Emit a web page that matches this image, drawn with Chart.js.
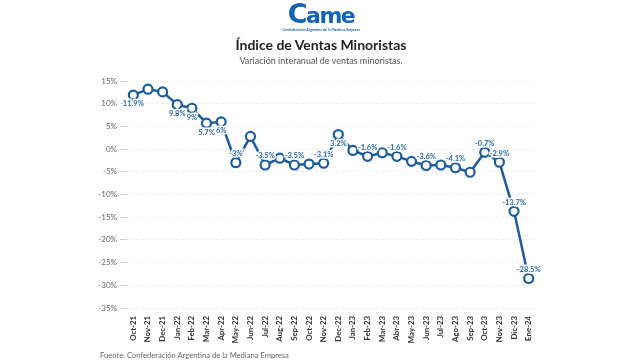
<!DOCTYPE html>
<html>
<head>
<meta charset="utf-8">
<script src="https://cdn.jsdelivr.net/npm/chart.js@4"></script>
<style>
  html, body { margin:0; padding:0; background:#fff; }
  #wrap { position:relative; width:642px; height:361px; overflow:hidden; font-family: Lato, "Open Sans", sans-serif; }
  #c { position:absolute; left:0; top:0; }
  .abs { position:absolute; white-space:nowrap; }
  #logo { left:0; width:642px; top:-2px; text-align:center; color:#1562b8; font-family:"DejaVu Sans", sans-serif; font-weight:bold; font-size:22px; letter-spacing:-1.5px; }
  #logo .big { font-size:27px; }
  #logosub { left:0; width:642px; top:27px; text-align:center; color:#1562b8; font-size:3.6px; font-weight:bold; }
  #title { left:0; width:642px; top:36px; text-align:center; color:#222; font-weight:bold; font-size:14px; }
  #sub { left:0; width:642px; top:55px; text-align:center; color:#555; font-size:9px; }
  #src { left:100px; top:350px; color:#666; font-size:7.6px; }
</style>
</head>
<body>
<div id="wrap">
  <canvas id="c" width="642" height="361"></canvas>
  <div id="logo" class="abs"><span class="big">C</span>ame</div>
  <div id="logosub" class="abs">Confederación Argentina de la Mediana Empresa</div>
  <div id="title" class="abs">Índice de Ventas Minoristas</div>
  <div id="sub" class="abs">Variación interanual de ventas minoristas.</div>
  <div id="src" class="abs">Fuente: Confederación Argentina de la Mediana Empresa</div>
</div>
<script>
const months = ["Oct-21","Nov-21","Dec-21","Jan-22","Feb-22","Mar-22","Apr-22","May-22","Jun-22","Jul-22","Aug-22","Sep-22","Oct-22","Nov-22","Dec-22","Jan-23","Feb-23","Mar-23","Abr-23","May-23","Jun-23","Jul-23","Ago-23","Sep-23","Oct-23","Nov-23","Dic-23","Ene-24"];
const ventas = [11.9, 13.2, 12.6, 9.8, 9.0, 5.7, 6.0, -3.0, 2.8, -3.5, -2.0, -3.5, -3.3, -3.1, 3.2, -0.3, -1.6, -0.8, -1.6, -2.7, -3.6, -3.5, -4.1, -5.1, -0.7, -2.9, -13.7, -28.5];
const etiquetas = [11.9, null, null, 9.8, 9, 5.7, 6, -3, null, -3.5, null, -3.5, null, -3.1, 3.2, null, -1.6, null, -1.6, null, -3.6, null, -4.1, null, -0.7, -2.9, -13.7, -28.5];
const yTicks = [15, 10, 5, 0, -5, -10, -15, -20, -25, -30, -35];

const blue = '#1a5c9e';
const labelBlue = '#2a69a8';

const labelPlugin = {
  id: 'pointLabels',
  afterDatasetsDraw(chart) {
    const ctx = chart.ctx;
    const meta = chart.getDatasetMeta(0);
    ctx.save();
    ctx.font = 'bold 7.5px Lato';
    ctx.textAlign = 'center';
    ctx.textBaseline = 'middle';
    etiquetas.forEach((v, i) => {
      if (v === null) return;
      const pt = meta.data[i];
      const y = pt.y + (v >= 0 ? 9 : -9);
      const txt = v + '%';
      ctx.lineWidth = 3;
      ctx.strokeStyle = '#fff';
      ctx.strokeText(txt, pt.x, y);
      ctx.fillStyle = labelBlue;
      ctx.fillText(txt, pt.x, y);
    });
    ctx.restore();
  }
};

new Chart(document.getElementById('c'), {
  type: 'line',
  data: {
    labels: months,
    datasets: [{
      data: ventas,
      borderColor: blue,
      borderWidth: 2.5,
      backgroundColor: '#fff',
      pointBackgroundColor: '#fff',
      pointBorderColor: blue,
      pointBorderWidth: 2.2,
      pointRadius: 4.5,
      tension: 0
    }]
  },
  options: {
    responsive: false,
    animation: false,
    events: [],
    layout: { padding: { left: 0, right: 106, top: 81, bottom: 8 } },
    plugins: { legend: { display: false }, tooltip: { enabled: false }, title: { display: false } },
    scales: {
      x: {
        offset: true,
        grid: { display: false, drawTicks: false },
        border: { display: false },
        ticks: { autoSkip: false, maxRotation: 90, minRotation: 90, padding: 8, color: '#333', font: { family: 'Lato', weight: 'bold', size: 7.8 } },
        afterFit(s) { s.height = 45; }
      },
      y: {
        min: -35, max: 15,
        afterBuildTicks(s) { s.ticks = yTicks.map(v => ({ value: v })); },
        grid: { color: '#ececec', lineWidth: 1, tickLength: 6, tickColor: '#d0d0d0' },
        border: { display: false, dash: [3, 2] },
        ticks: { padding: 3, color: '#666', font: { family: 'Lato', size: 8 }, callback: v => v + '%' },
        afterFit(s) { s.width = 126; }
      }
    }
  },
  plugins: [labelPlugin]
});
</script>
</body>
</html>
